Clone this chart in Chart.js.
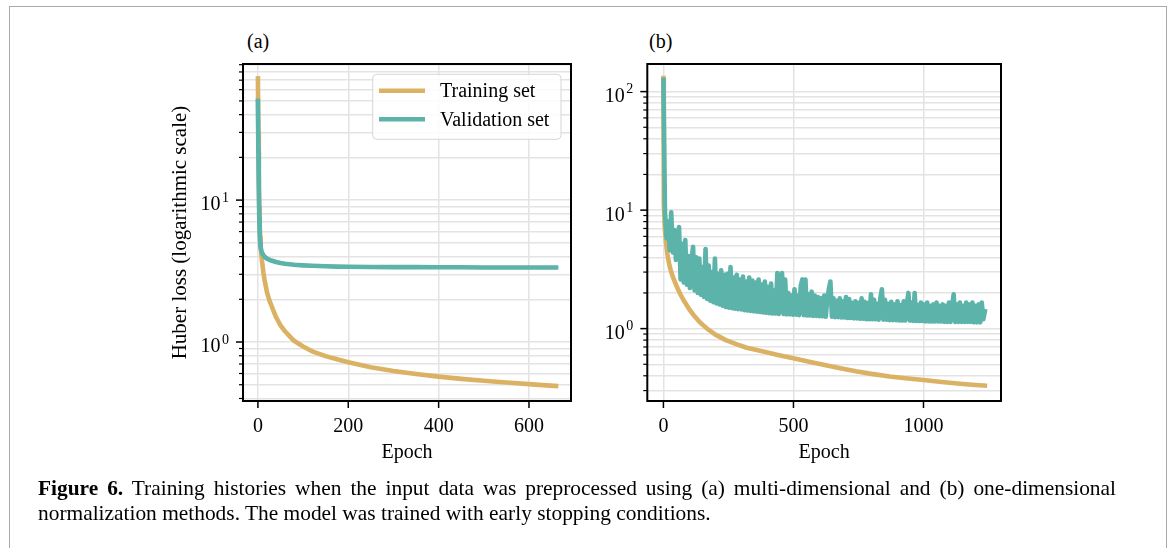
<!DOCTYPE html>
<html><head><meta charset="utf-8">
<script src="https://cdn.jsdelivr.net/npm/chart.js@4.4.0/dist/chart.umd.min.js"></script>
<style>
html,body{margin:0;padding:0;background:#fff;}
body{width:1173px;height:548px;position:relative;overflow:hidden;font-family:'Liberation Serif','Times New Roman',serif;color:#000;}
#frame{position:absolute;left:9px;top:6px;width:1158px;height:600px;border:1px solid #a9a9a9;border-bottom:none;box-sizing:border-box;}
canvas{position:absolute;top:20px;}
.ptitle{position:absolute;font-size:20px;line-height:20px;}
#caption{position:absolute;left:38px;top:476px;width:1078px;font-size:21.4px;line-height:25px;text-align:justify;}
</style></head>
<body>
<div id="frame"></div>
<div class="ptitle" style="left:247px;top:31px">(a)</div>
<div class="ptitle" style="left:649px;top:31px">(b)</div>
<canvas id="ca" width="440" height="460" style="left:150px"></canvas>
<canvas id="cb" width="440" height="460" style="left:590px"></canvas>
<div id="caption"><b>Figure 6.</b> Training histories when the input data was preprocessed using (a) multi-dimensional and (b) one-dimensional normalization methods. The model was trained with early stopping conditions.</div>
<script>
// ---------- DATA ----------
// Panel (a): multi-dimensional normalization
const epochsA = [0,1,2,3,4,5,6,8,10,12,15,20,25,30,40,50,60,70,80,100,120,150,175,200,250,300,350,400,450,500,550,600,630,660];
const trainA  = [72,30,15,9,6.5,5.5,4.8,4.0,3.5,3.1,2.7,2.25,1.98,1.8,1.5,1.31,1.19,1.1,1.02,0.93,0.86,0.795,0.755,0.72,0.665,0.625,0.595,0.57,0.55,0.533,0.518,0.505,0.497,0.49];
const valA    = [50,22,12,7.5,5.8,5.0,4.6,4.35,4.2,4.1,3.98,3.87,3.8,3.75,3.66,3.6,3.56,3.53,3.5,3.47,3.45,3.42,3.4,3.39,3.38,3.37,3.37,3.36,3.36,3.35,3.35,3.35,3.35,3.35];

// Panel (b): one-dimensional normalization
const epochsTrainB = [0,1,2,3,4,6,8,10,15,20,25,30,40,50,65,80,100,120,140,170,200,240,280,320,380,440,500,560,620,680,740,800,870,940,1000,1070,1140,1200,1236];
const trainB = [130,13,11,9.5,8.5,7.1,6.0,5.3,4.3,3.7,3.3,3.0,2.6,2.3,1.95,1.7,1.45,1.27,1.13,0.99,0.89,0.8,0.74,0.69,0.645,0.6,0.562,0.525,0.492,0.462,0.436,0.415,0.395,0.38,0.368,0.355,0.343,0.334,0.33];
const valEpochStepB = 6; // validation loss read every 6 epochs
const valB = [125,9.5,5.8,8.0,4.6,9.6,4.4,6.8,3.8,5.6,7.2,
2.6,5.2,2.45,5.6,2.35,4.1,2.2,3.8,4.9,2.1,4.0,2.0,3.9,1.93,3.3,1.85,4.7,1.78,3.4,1.72,3.0,1.67,3.9,1.63,2.9,1.6,3.1,1.56,2.85,1.52,2.9,1.5,3.3,1.49,2.7,1.47,2.85,1.46,2.6,1.45,
2.75,1.43,2.5,1.42,2.7,1.41,2.55,1.4,2.45,1.39,2.6,1.38,2.35,1.37,2.5,1.36,2.25,1.35,2.4,1.34,2.1,1.34,2.95,1.33,2.2,2.95,1.33,2.6,1.32,2.0,1.32,1.9,1.31,2.15,1.31,1.9,1.3,2.3,2.6,1.3,2.6,1.29,1.95,1.29,2.05,1.28,1.9,1.28,1.85,1.27,
1.8,1.27,1.9,1.26,1.75,2.15,2.5,1.26,1.8,1.25,1.72,1.25,1.8,1.24,1.7,1.24,1.85,1.23,1.78,1.23,1.65,1.22,1.7,1.22,1.65,1.21,1.8,1.21,1.68,1.2,1.64,1.2,1.95,1.2,1.75,1.2,1.62,1.19,1.8,2.15,1.19,1.75,1.19,1.62,1.18,1.68,1.18,1.6,1.18,1.7,
1.17,1.58,1.17,1.7,1.17,1.62,2.0,1.17,1.66,1.16,2.0,1.16,1.58,1.16,1.66,1.16,1.6,1.15,1.66,1.15,1.56,1.15,1.6,1.15,1.66,1.15,1.56,1.15,1.6,1.14,1.56,1.14,1.66,1.14,1.56,1.95,1.14,1.6,1.14,1.66,1.14,1.56,1.14,1.66,1.14,1.6,1.14,1.66,1.13,1.56,1.13,1.6,1.13,1.66,1.2,1.4];

// Axis ticks
const xTicksA = [0,200,400,600];
const xTicksB = [0,500,1000];
const yTicksA = [0.4,0.5,0.6,0.7,0.8,0.9,1,2,3,4,5,6,7,8,9,10,20,30,40,50,60,70,80,90];
const yTicksB = [0.3,0.4,0.5,0.6,0.7,0.8,0.9,1,2,3,4,5,6,7,8,9,10,20,30,40,50,60,70,80,90,100];

// ---------- STYLE ----------
const FONT = "'Liberation Serif','Times New Roman',serif";
const TAN = '#dbb263';
const TEAL = '#5bb3a9';
const GRID = '#e3e3e3';
const LW = 4.6;

function isPow10(v){ const l = Math.log10(v); return Math.abs(l - Math.round(l)) < 1e-9; }

function makeDecor(cfg){
  return {
    id: 'decor',
    afterDraw(chart){
      const ctx = chart.ctx, a = chart.chartArea;
      const xs = chart.scales.x, ys = chart.scales.y;
      ctx.save();
      if (cfg.legend) {
        const bw = 188.3, bh = 65;
        const bx = a.right - 10 - bw, by = a.top + 10.3;
        ctx.beginPath();
        if (ctx.roundRect) ctx.roundRect(bx, by, bw, bh, 4); else ctx.rect(bx, by, bw, bh);
        ctx.fillStyle = 'rgba(255,255,255,0.85)';
        ctx.fill();
        ctx.strokeStyle = '#d6d6d6'; ctx.lineWidth = 1; ctx.stroke();
        const items = [[chart.data.datasets[0].label, TAN, 16.4],[chart.data.datasets[1].label, TEAL, 45]];
        items.forEach(([txt, col, dy]) => {
          ctx.strokeStyle = col; ctx.lineWidth = LW; ctx.lineCap = 'butt';
          ctx.beginPath(); ctx.moveTo(bx + 6.3, by + dy); ctx.lineTo(bx + 52.3, by + dy); ctx.stroke();
          ctx.fillStyle = '#000'; ctx.font = '20px ' + FONT; ctx.textBaseline = 'middle'; ctx.textAlign = 'left';
          ctx.fillText(txt, bx + 67.3, by + dy + 1);
        });
      }
      ctx.strokeStyle = '#000'; ctx.lineWidth = 1.5; ctx.lineCap = 'butt';
      xs.ticks.forEach(t => {
        const px = xs.getPixelForValue(t.value);
        ctx.beginPath(); ctx.moveTo(px, a.bottom); ctx.lineTo(px, a.bottom + 7); ctx.stroke();
      });
      ys.ticks.forEach(t => {
        const py = ys.getPixelForValue(t.value);
        const len = isPow10(t.value) ? 7 : 4;
        ctx.lineWidth = isPow10(t.value) ? 1.5 : 1.2;
        ctx.beginPath(); ctx.moveTo(a.left - len, py); ctx.lineTo(a.left, py); ctx.stroke();
      });
      ctx.fillStyle = '#000'; ctx.textAlign = 'left'; ctx.textBaseline = 'alphabetic';
      ys.ticks.forEach(t => {
        if (!isPow10(t.value)) return;
        const py = ys.getPixelForValue(t.value);
        const exp = String(Math.round(Math.log10(t.value)));
        ctx.font = '20px ' + FONT;
        const wb = ctx.measureText('10').width;
        ctx.font = '14px ' + FONT;
        const we = ctx.measureText(exp).width;
        const right = a.left - 14;
        const x0 = right - we - 1.5 - wb;
        ctx.font = '20px ' + FONT;
        ctx.fillText('10', x0, py + 10.4);
        ctx.font = '14px ' + FONT;
        ctx.fillText(exp, x0 + wb + 1.5, py + 1.7);
      });
      ctx.strokeStyle = '#000'; ctx.lineWidth = 2;
      ctx.strokeRect(a.left, a.top, a.right - a.left, a.bottom - a.top);
      ctx.restore();
    }
  };
}

function makeChart(id, cfg){
  const ds = (label, xs, ys, color, order) => ({
    label, data: xs.map((x, i) => ({x, y: ys[i]})),
    borderColor: color, backgroundColor: color, borderWidth: LW, pointRadius: 0,
    tension: 0, borderJoinStyle: 'round', borderCapStyle: 'square', order, fill: false
  });
  return new Chart(document.getElementById(id), {
    type: 'line',
    data: { datasets: [
      ds('Training set', cfg.trainX, cfg.trainY, TAN, 2),
      ds('Validation set', cfg.valX, cfg.valY, TEAL, 1)
    ]},
    options: {
      responsive: false, animation: false, devicePixelRatio: 1,
      layout: { padding: { left: 0, top: 44, right: cfg.padRight, bottom: 0 } },
      plugins: { legend: { display: false }, tooltip: { enabled: false }, title: { display: false } },
      scales: {
        x: {
          type: 'linear', min: cfg.xmin, max: cfg.xmax,
          afterBuildTicks: s => { s.ticks = cfg.xTicks.map(v => ({ value: v })); },
          afterFit: s => { s.height = 79; },
          grid: { color: GRID, lineWidth: 1.5, drawTicks: false },
          border: { display: false },
          ticks: { font: { family: FONT, size: 20 }, color: '#000', padding: 14, maxRotation: 0, autoSkip: false, callback: v => String(v) },
          title: { display: true, text: 'Epoch', font: { family: FONT, size: 20 }, color: '#000', padding: { top: 0, bottom: 15 } }
        },
        y: {
          type: 'logarithmic', min: cfg.ymin, max: cfg.ymax,
          afterBuildTicks: s => { s.ticks = cfg.yTicks.map(v => ({ value: v, major: isPow10(v) })); },
          afterFit: s => { s.width = cfg.yWidth; },
          grid: { color: GRID, lineWidth: 1.5, drawTicks: false },
          border: { display: false },
          ticks: { display: false },
          title: cfg.yTitle ? { display: true, text: cfg.yTitle, font: { family: FONT, size: 21 }, color: '#000', padding: { top: 18 } } : { display: false }
        }
      }
    },
    plugins: [makeDecor(cfg)]
  });
}

makeChart('ca', {
  trainX: epochsA, trainY: trainA, valX: epochsA, valY: valA,
  xmin: -33, xmax: 693, ymin: 0.384, ymax: 91,
  xTicks: xTicksA, yTicks: yTicksA, yWidth: 93, padRight: 19,
  yTitle: 'Huber loss (logarithmic scale)', legend: true
});
makeChart('cb', {
  trainX: epochsTrainB, trainY: trainB, valX: valB.map((_, i) => i * valEpochStepB), valY: valB,
  xmin: -62, xmax: 1298, ymin: 0.245, ymax: 171,
  xTicks: xTicksB, yTicks: yTicksB, yWidth: 57.3, padRight: 29,
  yTitle: null, legend: false
});
</script>
</body></html>
